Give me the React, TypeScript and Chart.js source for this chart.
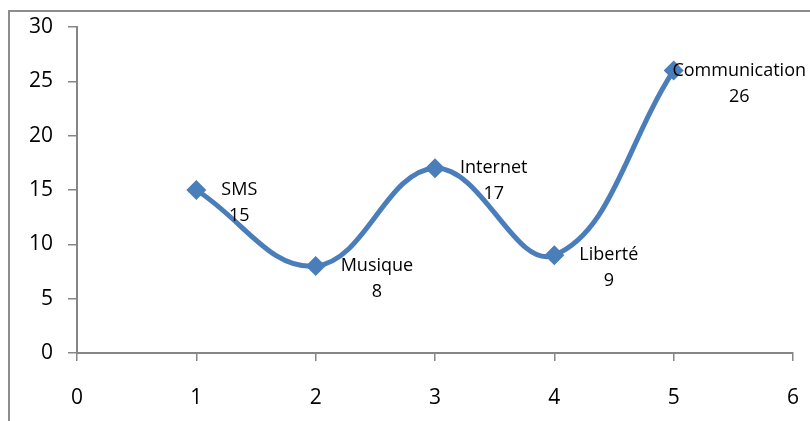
import React, { useEffect, useRef } from "react";
import { Chart, registerables } from "chart.js";

Chart.register(...registerables);

const xValues = [1, 2, 3, 4, 5];
const yValues = [15, 8, 17, 9, 26];
const pointNames = ["SMS", "Musique", "Internet", "Liberté", "Communication"];

const FONT = "'Open Sans', 'Liberation Sans', sans-serif";

const frame = {
  id: "frame",
  beforeDraw(chart: any) {
    const ctx = chart.ctx;
    ctx.save();
    ctx.fillStyle = "#ffffff";
    ctx.fillRect(0, 0, chart.width, chart.height);
    ctx.strokeStyle = "#8c8c8c";
    ctx.lineWidth = 2;
    ctx.beginPath();
    ctx.moveTo(9, chart.height);
    ctx.lineTo(9, 11);
    ctx.lineTo(chart.width, 11);
    ctx.stroke();
    ctx.restore();
  },
};

const pointLabels = {
  id: "pointLabels",
  afterDatasetsDraw(chart: any) {
    const ctx = chart.ctx;
    const meta = chart.getDatasetMeta(0);
    ctx.save();
    ctx.font = `18px ${FONT}`;
    ctx.fillStyle = "#000000";
    ctx.textAlign = "center";
    ctx.textBaseline = "middle";
    meta.data.forEach((pt: any, i: number) => {
      const l1 = pointNames[i];
      const l2 = String(yValues[i]);
      const w = Math.max(ctx.measureText(l1).width, ctx.measureText(l2).width);
      let left = pt.x + 25;
      if (left + w > chart.width - 4) left = chart.width - 4 - w;
      const cx = left + w / 2;
      ctx.fillText(l1, cx, pt.y);
      ctx.fillText(l2, cx, pt.y + 26);
    });
    ctx.restore();
  },
};

export default function App() {
  const ref = useRef<HTMLCanvasElement>(null);
  useEffect(() => {
    const chart = new Chart(ref.current!, {
      type: "line",
      data: {
        datasets: [
          {
            data: xValues.map((x, i) => ({ x, y: yValues[i] })),
            borderColor: "#4a7ebb",
            backgroundColor: "#4a7ebb",
            borderWidth: 5,
            tension: 0.4,
            pointStyle: "rectRot",
            pointRadius: 10,
            pointBorderWidth: 0,
          },
        ],
      },
      options: {
        responsive: false,
        animation: false,
        layout: { autoPadding: false, padding: { top: 27, right: 17, left: 0, bottom: 0 } },
        plugins: { legend: { display: false }, tooltip: { enabled: false } },
        scales: {
          x: {
            type: "linear",
            min: 0,
            max: 6,
            ticks: { stepSize: 1, color: "#000", font: { family: FONT, size: 21 }, padding: 24 },
            grid: { drawOnChartArea: false, tickLength: 8, color: "#868686", lineWidth: 1.5 },
            border: { color: "#868686", width: 2 },
            afterFit(s: any) {
              s.height = 68;
              s.paddingLeft = 0;
              s.paddingRight = 0;
            },
          },
          y: {
            min: 0,
            max: 30,
            ticks: { stepSize: 5, color: "#000", font: { family: FONT, size: 21 }, padding: 15 },
            grid: { drawOnChartArea: false, tickLength: 9, color: "#868686", lineWidth: 1.5 },
            border: { color: "#868686", width: 2 },
            afterFit(s: any) {
              s.width = 77;
              s.paddingTop = 0;
              s.paddingBottom = 0;
            },
          },
        },
      },
      plugins: [frame, pointLabels],
    });
    return () => chart.destroy();
  }, []);
  return (
    <div style={{ position: "fixed", left: 0, top: 0 }}>
      <canvas ref={ref} width={810} height={421} style={{ display: "block" }} />
    </div>
  );
}
